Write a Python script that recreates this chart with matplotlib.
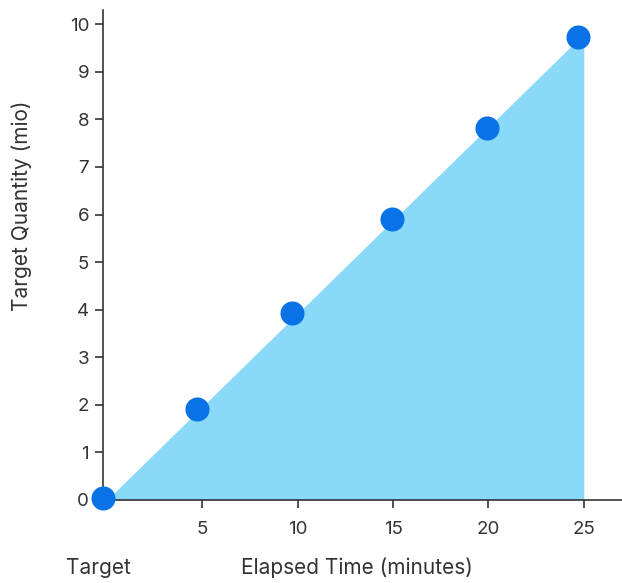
import numpy as np
import matplotlib.pyplot as plt

plt.rcParams['font.family'] = ['Inter', 'DejaVu Sans']

# target area (line from origin to final target)
area_x = [0, 25]
area_y = [0, 9.8]

# measured points
elapsed = [-0.2, 4.72, 9.7, 14.96, 19.9, 24.67]
quantity = [0.05, 1.91, 3.93, 5.9, 7.81, 9.73]

xticks = [5, 10, 15, 20, 25]
yticks = list(range(0, 11))

fig = plt.figure(figsize=(6.22, 5.83), dpi=100)
ax = fig.add_axes([103/622, 83/583, (622-103)/622, (500-10)/583])

ax.fill_between(area_x, area_y, 0, color="#8ad9f8", lw=0, zorder=1)
ax.scatter(elapsed, quantity, s=300, color="#0872e6", zorder=3, clip_on=False, linewidths=0)

ax.set_xlim(-0.2, 27.0)
ax.set_ylim(0, 10.3)
ax.set_xticks(xticks)
ax.set_yticks(yticks)

for side in ["top", "right"]:
    ax.spines[side].set_visible(False)
for side in ["left", "bottom"]:
    ax.spines[side].set_color("#333333")
    ax.spines[side].set_linewidth(1.2)

ax.tick_params(axis="both", colors="#333333", labelsize=13.5, length=6, width=1.2)
ax.tick_params(axis="x", pad=9)
ax.tick_params(axis="y", pad=4)

fig.text(357/622, 1 - 568/583, "Elapsed Time (minutes)", ha="center", va="center",
         fontsize=15, color="#333333")
fig.text(98/622, 1 - 568/583, "Target", ha="center", va="center",
         fontsize=15, color="#333333")
fig.text(22/622, 1 - 206/583, "Target Quantity (mio)", ha="center", va="center",
         rotation=90, fontsize=15, color="#333333")

fig.savefig("out.png", dpi=100)
